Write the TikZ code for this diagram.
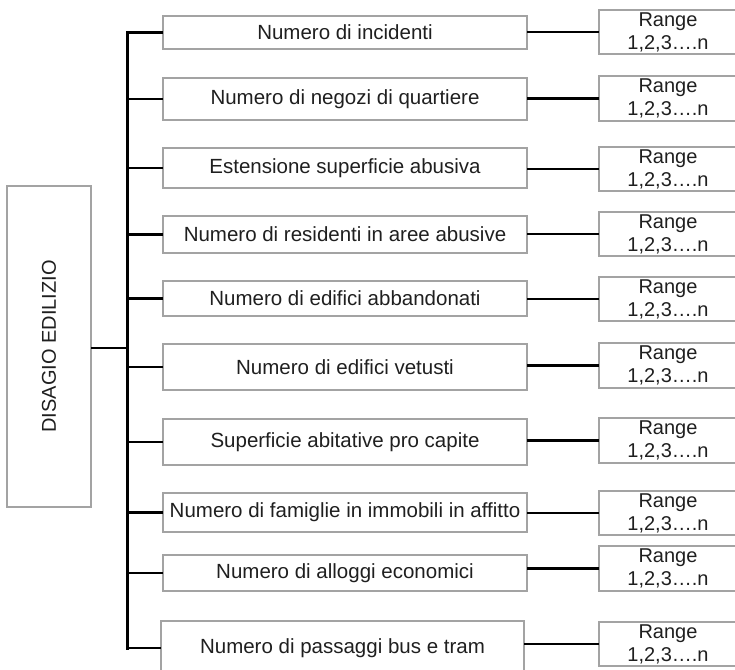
\documentclass[tikz,border=0pt]{standalone}
\usepackage{fontspec}
\setmainfont{Liberation Sans}
\begin{document}
\begin{tikzpicture}[x=1pt,y=-1pt,
  box/.style={draw=black!36, line width=1.3pt, inner sep=0pt, outer sep=0pt,
    text=black!88, align=center},
  midtext/.style={font=\fontsize{20.5}{22}\selectfont},
  rangetext/.style={font=\fontsize{20}{23}\selectfont},
  link/.style={line width=2.5pt, black},
  trunkline/.style={line width=3pt, black, line cap=rect},
]
\useasboundingbox (0,0) rectangle (735,669);
\clip (0,0) rectangle (735,669);

% root box with vertical title
\node[box, minimum width=84pt, minimum height=321pt] (root) at (49,346.5) {};
\node[rotate=90, text=black!88, font=\fontsize{20}{22}\selectfont] (rootlabel) at (root.center) {DISAGIO EDILIZIO};

\coordinate (trunk) at (127,348);

% indicator boxes and their ranges
\foreach \i/\mx/\mw/\my/\mh/\ry/\rh/\txt in {
  1/345/364/32.5/33/32/44/{Numero di incidenti},
  2/345/364/99/42/98.5/45/{Numero di negozi di quartiere},
  3/345/364/168/40/169/44/{Estensione superficie abusiva},
  4/345/364/234.5/37/234/44/{Numero di residenti in aree abusive},
  5/345/364/298.5/35/299/44/{Numero di edifici abbandonati},
  6/345/364/367/46/365.5/45/{Numero di edifici vetusti},
  7/345/364/442/46/440.5/45/{Superficie abitative pro capite},
  8/345/364/512.5/39/513/44/{Numero di famiglie in immobili in affitto},
  9/345/364/573/36/568.5/45/{Numero di alloggi economici},
  10/342.5/363/648/54/644/44/{Numero di passaggi bus e tram}} {
  \node[box, midtext, minimum width=\mw pt, minimum height=\mh pt] (m\i) at (\mx,\my) {\txt};
  \node[box, rangetext, minimum width=138pt, minimum height=\rh pt] (r\i) at (668,\ry) {Range\\1,2,3….n};
  \draw[link] (m\i.west -| trunk) -- (m\i.west);
  \draw[link] (r\i.west -| m\i.east) -- (r\i.west);
}

% trunk of the tree
\draw[link] (root.east |- trunk) -- (trunk);
\draw[trunkline] (m1.west -| trunk) -- (m10.west -| trunk);
\end{tikzpicture}
\end{document}
